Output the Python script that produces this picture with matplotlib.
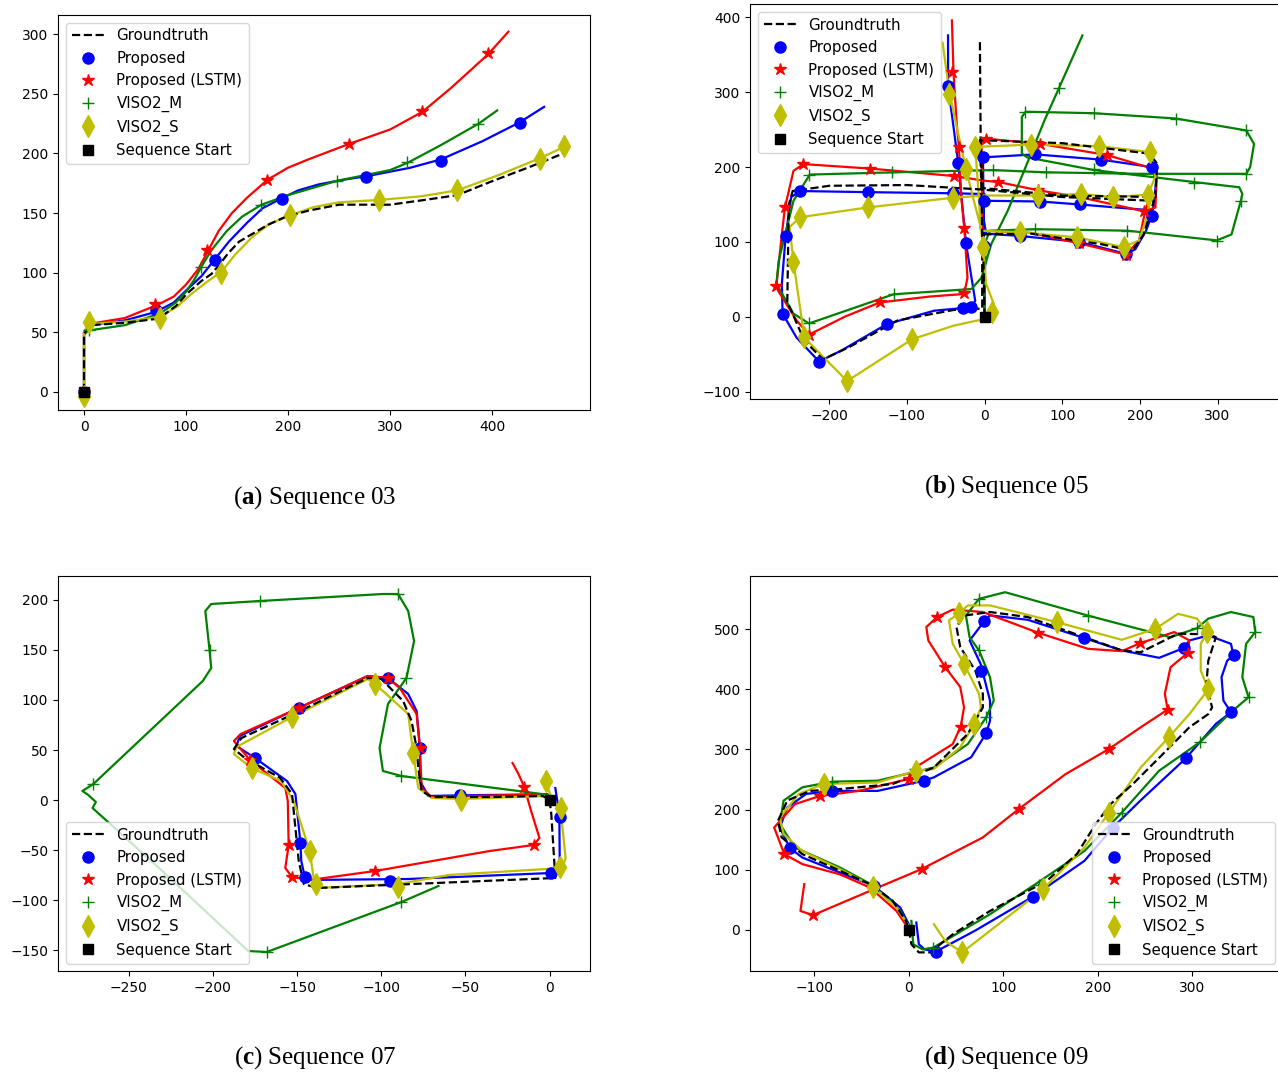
import numpy as np
import matplotlib
matplotlib.use('Agg')
import matplotlib.pyplot as plt

plt.rcParams['font.family'] = ['DejaVu Sans']
plt.rcParams['mathtext.fontset'] = 'custom'
plt.rcParams['mathtext.rm'] = 'Liberation Serif'
plt.rcParams['mathtext.bf'] = 'Liberation Serif:bold'

NAN = (np.nan, np.nan)
labels = ['Groundtruth', 'Proposed', 'Proposed (LSTM)', 'VISO2_M', 'VISO2_S', 'Sequence Start']
captions = ['a', 'b', 'c', 'd']
seq_names = ['03', '05', '07', '09']
start = [(0, 0)]

# ---------------- Sequence 03 ----------------
a_gt = [(0, 0), (0, 49), (7, 56), (40, 58), (73, 61.5), (90, 72), (101, 82.5), (115, 93), (125, 99), (133, 107),
        (141, 116), (152, 126), (166, 133), (180, 140), (198, 147), (220, 152), (250, 157), (300, 157),
        (334, 161), (366, 165), (398, 176), (438, 189), (470, 200)]
a_prop = [(0, 0), (0, 50), (5, 56), (40, 60), (70, 67), (88, 75), (100, 85), (115, 97), (128, 111), (142, 126),
          (160, 142), (175, 154), (193, 162), (210, 169), (230, 174), (255, 178), (278, 181), (320, 188),
          (350, 195), (390, 210), (427, 226), (451, 239)]
a_prop_mk = [(0, 0), (71, 69), (128, 111), (193.6, 161.6), (276.5, 180.4), (350, 194), (427, 225.7)]
a_lstm = [(0, 0), (0, 50), (5, 57), (40, 62), (72, 73), (88, 80), (100, 90), (112, 103), (122, 119),
          (132, 135), (145, 150), (160, 163), (180, 178), (200, 188), (220, 195), (260, 208), (300, 220),
          (332, 235), (360, 255), (396, 283), (416, 302)]
a_lstm_mk = [(0, 0), (70, 73.5), (121, 119), (179.5, 178), (260, 208), (331, 235.5), (396, 284)]
a_vm = [(0, 0), (0, 48), (4, 51.5), (40, 56), (75, 66), (90, 75), (100, 84), (108, 94), (115, 105), (125, 119),
        (140, 135), (155, 147), (174, 157), (200, 165), (248, 177), (300, 186), (317, 192), (350, 207),
        (387, 225), (405, 236)]
a_vm_mk = [(0, 0), (4.4, 51.7), (114.6, 105), (173.5, 156.6), (248, 176.7), (316.6, 192.4), (386, 225)]
a_vs = [(0, -3), (0, 50), (5, 57), (40, 59), (75, 63), (92, 72), (105, 82), (120, 92), (135, 101), (148, 115),
        (165, 130), (182, 141), (202, 148), (225, 155), (250, 159), (290, 161), (330, 164), (366, 169),
        (407, 182), (447, 196), (472, 206)]
a_vs_mk = [(0, -3), (5, 58.7), (74.5, 62.4), (134, 100), (202, 148), (289, 161), (366, 169), (447, 195), (471, 206)]

# ---------------- Sequence 05 ----------------
b_gt = [(0, 0), (-2, 110), (60, 111), (150, 97), (190, 88), (205, 110), (218, 155), (100, 160), (-3, 170),
        (-100, 176), (-200, 175), (-247, 168), (-252, 150), (-254, 20), (-232, -32), (-208, -57), (-175, -41),
        (-112, -5), (-40, 9), (-3, 11), (-3, 110), (-4, 170), (-6, 236), (100, 232), (212, 218), (222, 205),
        (220, 160), (100, 162), (-3, 172), (-5, 236), (-6, 370)]
b_prop = [(0, 0), (-1, 94), (-1, 150), (0, 164), (-41, 165), (-151, 166.5), (-237, 168), (-249, 160),
          (-256, 109), (-261, 44), (-260, 4), (-242, -28), (-213, -60), (-184, -45), (-126, -10), (-65, 8),
          (-28, 11.6), (-18, 13), (-12, 21), (-24, 99), (-34, 206), (-40, 254), (-47, 308), (-47, 376), NAN,
          (0, 155), (72, 154), (123, 150), (205, 143), (215, 135), (208, 115), (194, 90), (182, 84), (122, 100),
          (45, 108), (2, 111), (-1, 130), (-2, 213), (65, 217), (150, 210), (215, 200), (221, 182), (218, 150),
          (215, 135)]
b_prop_mk = [(-47.4, 308), (-34.4, 205.8), (-24, 98.7), (-17.7, 13.4), (-27.8, 11.6), (-126, -9.8), (-213, -60),
             (-260, 3.6), (-256, 108.5), (-237, 168), (-150.7, 166.5), (-40.7, 165), (-1, 155), (71.8, 154),
             (123.4, 150), (215, 135), (182, 84), (122, 99.6), (45.5, 108.5), (-1, 95), (-2, 213), (64.6, 217),
             (150, 210), (215, 200)]
b_lstm = [(-42, 396), (-40, 327), (-36, 260), (-33, 227), (-30, 160), (-26, 118), (-22, 52), (-26, 32), (-31, 30),
          (-70, 27), (-135, 19), (-180, 0), (-226, -24), (-242, -5), (-266, 35), (-268, 42), (-261, 110),
          (-257, 146), (-246, 195), (-233, 204), (-147, 198), (-39, 188), (-2, 182), (18, 180), (69, 169),
          (122, 160), (205, 141), (220, 146), (222, 195), (210, 200), (158, 216), (72, 231), (2, 238), (-4, 231),
          (-3, 150), (-3, 115), (60, 112), (122, 98), (182, 83), (199, 102), (206, 137), (212, 160)]
b_lstm_mk = [(-42, 327), (-33.5, 227), (-39, 188), (-26, 118), (-26, 31.7), (-135, 19), (-226, -24), (-268, 41.5),
             (-257, 146), (-233.5, 204.5), (-147.4, 197.8), (17.7, 180), (69.4, 168.75), (205.7, 141),
             (158, 215.6), (71.8, 231), (2.4, 238), (122, 98), (182, 83)]
b_vm = [(0, 0), (1, 100), (7, 115), (65, 117), (184, 115), (246, 108), (299, 102), (318, 110), (330, 155),
        (332, 164), (328, 173), (270, 180), (141, 196), (55, 213), (48, 218), (48, 267), (53, 274), (141, 272),
        (246, 265), (337, 249), (347, 231), (342, 200), (337, 191), (199, 191), (79, 193), (11, 196), (-117, 193),
        (-225, 190), (-246, 155), (-265, 75), (-268, 44), (-246, 4), (-226, -9), (-117, 30), (-17, 37), (-4, 52),
        (8.6, 97), (30, 142), (56, 208), (77, 262), (96, 306), (126, 376)]
b_vm_mk = [(-226, 190), (-118.7, 193), (11, 196.4), (79, 193.3), (337, 191), (270, 179), (330, 155), (299, 101),
           (184, 114), (64.6, 117), (52.6, 273.7), (141, 272), (246, 264.7), (337, 249), (95.7, 306), (-117, 30),
           (-226, -9), (141, 197)]
b_vs = [(-54, 366), (-45, 298), (-35, 250), (-31, 231), (-24, 198), (-15, 160), (-5, 120), (-2, 94), (2, 44),
        (12, 17), (10, 6), (0, -3), (-40, -12), (-93, -30), (-177, -86), (-232, -28), (-246, 73), (-251, 120),
        (-237, 133), (-151, 146), (-41, 159), (-2, 162), (69, 162), (124, 164), (165, 160), (210, 163), (220, 187),
        (213, 220), (147, 228), (60, 230), (-12, 227), (-7, 155), (-5, 115), (45, 113), (120, 106), (179, 93),
        (199, 102), (210, 137), (215, 164)]
b_vs_mk = [(-45.5, 298), (-24, 198), (-2.4, 93.75), (9.6, 5.8), (-93, -30), (-177, -85.7), (-232, -27.7),
           (-246.4, 72.8), (-237, 133), (-150.7, 146.4), (-40.7, 159), (69.4, 162), (124.4, 164), (165, 160),
           (210.5, 163), (213, 220), (147.4, 228), (59.8, 230), (-12, 226.8), (45.5, 113), (119.6, 106), (179, 93)]

# ---------------- Sequence 07 ----------------
c_gt = [(0, 0), (1, -14), (3.4, -78), (-11, -79), (-138, -88), (-146, -84), (-149, -61), (-151, -28), (-153, 6),
        (-160, 22), (-181, 42), (-187.5, 51), (-183, 62), (-152, 86), (-108, 122), (-100, 121), (-87, 99),
        (-82, 79), (-79, 52), (-78, 32), (-76, 9), (-70, 3), (-35.5, 3), (-4, 4), (0, 0)]
c_prop = [(3.4, 12), (5.8, -14), (6, -61), (3, -70), (1, -73), (-84, -79), (-145, -80), (-147.5, -61),
          (-148, -43), (-151, 6), (-156, 19), (-175, 42), (-186, 54), (-184, 64), (-149, 92), (-108, 124),
          (-96, 122), (-84, 106), (-79, 89), (-77, 52), (-77, 19), (-72, 4), (-53, 4.7), (-1.5, 5.7)]
c_prop_mk = [(6, -17), (1, -73), (-95, -81), (-145, -77), (-148, -43), (-175, 42), (-149, 92), (-96, 122),
             (-77, 52), (-53, 4.7)]
c_lstm = [(-22, 37), (-18.5, 26), (-15, 13), (-11, -11), (-6, -38), (-9.5, -45), (-35.5, -51), (-103.6, -71),
          (-142.5, -80), (-153, -77), (-157, -68), (-155, -45), (-155.5, -1), (-157, 12), (-178, 40), (-187.5, 59),
          (-183.5, 66), (-149, 92), (-108, 124), (-96, 122), (-89, 112), (-79, 86), (-77, 52), (-76, 12),
          (-70, 3), (-4, 5.7)]
c_lstm_mk = [(-15, 13), (-9.5, -45), (-103.6, -71), (-153, -77), (-155, -45), (-178, 40), (-149, 92), (-96, 122),
             (-77, 52)]
c_vm = [(0, 5), (-88, 24), (-99, 29), (-101, 52), (-96, 96), (-85, 122), (-80.5, 159), (-84, 189), (-90, 206),
        (-99, 206), (-172, 199), (-201, 196), (-204.5, 189), (-202, 150), (-201, 132), (-206, 119), (-271, 16),
        (-277.5, 9), (-274, 5), (-269.5, -2), (-271.5, -8), (-230, -71), (-179, -151), (-168, -152), (-88, -102),
        (-66, -86)]
c_vm_mk = [(-88, 24), (-85, 122), (-90, 206), (-172, 199), (-202, 150), (-271, 16), (-229, -77), (-168, -152),
           (-88, -102)]
c_vs = [(-2.4, 19), (2, -2), (6.6, -10), (9.5, -58), (7.6, -68), (-60, -75), (-90, -84), (-138, -88), (-140, -80),
        (-142.5, -51), (-152, -1), (-159.5, 19), (-177, 32), (-187.5, 46), (-186, 53), (-153, 83), (-108, 121),
        (-103.6, 116), (-84, 86), (-81, 47), (-78, 12), (-70, 2), (-52.5, 1), (-1.5, 4)]
c_vs_mk = [(-2.4, 19), (6.6, -7.7), (6.3, -67), (-90, -87), (-139, -84), (-142.5, -51), (-177, 32), (-153, 83),
           (-103.6, 116), (-81, 47), (-52.5, 0)]

# ---------------- Sequence 09 ----------------
d_gt = [(0, 0), (2.8, -24.5), (10.7, -38), (22.7, -38), (46.5, -8), (86, 31), (146, 81), (178, 126), (198, 176),
        (213.6, 209), (237.5, 243), (269, 292.5), (297, 337), (317, 359), (321, 370), (315, 409), (317, 448),
        (325, 487), (319, 491.7), (285, 493), (245.5, 462), (225.5, 465), (186, 487), (126, 520.6), (86, 529),
        (58.5, 523), (50.5, 504), (54.5, 470.5), (70.4, 431.6), (78.4, 392.7), (78.4, 370), (62.5, 326),
        (26.6, 270), (-17, 242.5), (-73, 234), (-104.6, 231), (-128.5, 215), (-138.4, 181), (-134.5, 153.5),
        (-112.6, 125.7), (-72.8, 98), (-41, 75.6), (-17, 48), (-3, 14.5), (0, 0)]
d_prop = [(8, 11.7), (10.7, -24.5), (16.7, -33), (28.6, -36.7), (70, -2), (131, 54.5), (186, 114.6), (216, 170),
          (245, 214.7), (293, 285), (325, 342.6), (341, 362), (333, 381.5), (331, 420.5), (337, 448),
          (343.7, 456.6), (341, 476), (317, 490), (297, 481.6), (291, 469), (265, 452.7), (225.5, 465), (185, 486),
          (126, 516), (86, 523.4), (80, 514), (64.4, 481.6), (76, 442.7), (86, 381.5), (86, 348), (82, 327),
          (66, 287), (26.6, 253.6), (16, 248), (-33, 231), (-80.7, 231), (-108.6, 226), (-128.5, 203.5),
          (-136.4, 170), (-125.7, 135.7), (-112.6, 120), (-72.8, 95), (-37, 72.9), (-9, 36.7), (0, 9)]
d_prop_mk = [(28.6, -36.7), (131, 54.5), (216, 170), (293, 285), (341, 362), (343.7, 456.6), (291, 469),
             (185, 486), (80, 514), (76.4, 430.5), (82, 327), (16, 248), (-80.7, 231), (-125.7, 135.7), (-37, 72.9)]
d_lstm = [(-110.6, 75.6), (-114.6, 31), (-101.4, 24), (-41, 64.5), (13.5, 100.7), (78.4, 153.5), (116.5, 200.8),
          (166, 259), (212, 301), (245.5, 337), (274, 366.5), (271, 392.7), (277, 437), (295, 460.5),
          (297, 481.6), (281, 495.6), (244.6, 477), (225.5, 463.8), (189.7, 467.7), (137, 494.4), (78.4, 529),
          (46.5, 533), (30, 520.6), (18.6, 504), (20.7, 481.6), (38.6, 437), (54.5, 404), (58.5, 370), (55, 338),
          (46.5, 309), (6.8, 270), (0, 250.8), (-53, 231), (-94, 222.5), (-120.5, 209), (-142.4, 170),
          (-131.7, 125.7), (-112.6, 109), (-72.8, 92), (-41, 70), (-13, 31), (-1, 3)]
d_lstm_mk = [(-101.4, 24), (13.5, 100.7), (116.5, 200.8), (212, 301), (274, 366.5), (295, 460.5), (244.6, 477),
             (137, 494.4), (30, 520.6), (38.6, 437), (55, 338), (0, 250.8), (-94, 222.5), (-131.7, 125.7)]
d_vm = [(2.8, 14.5), (4.8, -24.5), (14.7, -33), (26, -30), (86, 25.6), (134, 75.6), (186, 131), (225.5, 195),
        (265, 264.7), (308, 312), (341, 362), (359.6, 387), (353, 420.5), (357, 476), (366.7, 495.6),
        (364.7, 520.6), (341, 529), (317, 518), (305, 502), (277, 487), (189.7, 523), (102, 562), (74.4, 551),
        (60.5, 523), (64.4, 487), (74.4, 465), (86, 420.5), (90, 381.5), (82, 353.7), (62.5, 309), (26.6, 270),
        (-33, 248), (-80.7, 246.4), (-112.6, 237), (-132.5, 214.7), (-136.4, 175.7), (-120.5, 136.8),
        (-72.8, 103.4), (-37, 73), (-9, 31), (0.8, 3)]
d_vm_mk = [(26, -30), (138, 75), (225.5, 195), (308, 312), (359.6, 387), (366.7, 495.6), (305, 502), (189.7, 523),
           (74.4, 551), (74.4, 465), (82, 353.7), (6.8, 267.5), (-80.7, 246.4)]
d_vs = [(26.6, 9), (38.6, -19), (56.5, -38), (86, -2), (142, 67), (186, 137), (212, 195), (245.5, 270), (275, 320),
        (297, 359), (317, 400), (309, 431.6), (309, 476), (316, 495.6), (305, 518), (285, 526), (261, 501),
        (225.5, 482.7), (157, 512), (86, 540), (62.5, 540), (53.3, 527), (42.6, 515), (46.5, 476), (58.5, 442.7),
        (74.4, 392.7), (76.4, 370), (69.2, 342.6), (54.5, 303.7), (26.6, 267.5), (8, 264.7), (-33, 245),
        (-90, 242.5), (-116.5, 225.8), (-136.4, 186.6), (-132.5, 159), (-112.6, 131), (-72.8, 100.7),
        (-37.8, 71.7), (-13, 36.7), (0, 6)]
d_vs_mk = [(56.5, -38), (142, 67), (212, 195), (275, 320), (317, 400), (316, 495.6), (261, 501), (157, 512),
           (53.3, 527), (58.5, 442.7), (69.2, 342.6), (8, 264.7), (-90, 242.5), (-37.8, 71.7)]

panels = [
    dict(lines=[a_gt, a_prop, a_lstm, a_vm, a_vs], marks=[a_prop_mk, a_lstm_mk, a_vm_mk, a_vs_mk],
         xlim=(-25.5, 496), ylim=(-15.1, 316), xt=[0, 100, 200, 300, 400], yt=[0, 50, 100, 150, 200, 250, 300],
         loc='upper left', rect=[58, 15], cap=(315, 498)),
    dict(lines=[b_gt, b_prop, b_lstm, b_vm, b_vs], marks=[b_prop_mk, b_lstm_mk, b_vm_mk, b_vs_mk],
         xlim=(-302, 383), ylim=(-110, 418), xt=[-200, -100, 0, 100, 200, 300], yt=[-100, 0, 100, 200, 300, 400],
         loc='upper left', rect=[750, 4], cap=(1006, 487)),
    dict(lines=[c_gt, c_prop, c_lstm, c_vm, c_vs], marks=[c_prop_mk, c_lstm_mk, c_vm_mk, c_vs_mk],
         xlim=(-292, 24), ylim=(-171, 224), xt=[-250, -200, -150, -100, -50, 0],
         yt=[-150, -100, -50, 0, 50, 100, 150, 200], loc='lower left', rect=[58, 576], cap=(315, 1058)),
    dict(lines=[d_gt, d_prop, d_lstm, d_vm, d_vs], marks=[d_prop_mk, d_lstm_mk, d_vm_mk, d_vs_mk],
         xlim=(-168, 395), ylim=(-69, 589), xt=[-100, 0, 100, 200, 300], yt=[0, 100, 200, 300, 400, 500],
         loc='lower right', rect=[750, 576], cap=(1006, 1058)),
]

W, H = 1278, 1073
fig = plt.figure(figsize=(W / 100, H / 100), dpi=100)
colors = ['b', 'r', 'g', 'y']
markers = [('o', 8), ('*', 9), ('+', 8), ('d', 11)]

for i, p in enumerate(panels):
    x0, y0 = p['rect']
    ax = fig.add_axes([x0 / W, 1 - (y0 + 395) / H, 532 / W, 395 / H])
    gx, gy = np.array(p['lines'][0], dtype=float).T
    ax.plot(gx, gy, 'k--', lw=1.6, label=labels[0], zorder=3)
    for tr, c in zip(p['lines'][1:], colors):
        tx, ty = np.array(tr, dtype=float).T
        ax.plot(tx, ty, color=c, lw=1.6, zorder=2)
    for mk, c, (m, ms), lab in zip(p['marks'], colors, markers, labels[1:5]):
        mx, my = np.array(mk, dtype=float).T
        ax.plot(mx, my, color=c, marker=m, ms=ms, ls='none', label=lab, zorder=4)
    sx, sy = np.array(start, dtype=float).T
    ax.plot(sx, sy, 'ks', ms=7.5, label=labels[5], zorder=5)
    ax.set_xlim(*p['xlim'])
    ax.set_ylim(*p['ylim'])
    ax.set_xticks(p['xt'])
    ax.set_yticks(p['yt'])
    ax.legend(loc=p['loc'], fontsize=10.8, handlelength=2.2)
    cx, cy = p['cap']
    fig.text(cx / W, 1 - cy / H, r'($\mathbf{%s}$) Sequence %s' % (captions[i], seq_names[i]),
             ha='center', va='center', fontsize=18, family='Liberation Serif')

fig.savefig('out.png', dpi=100)
